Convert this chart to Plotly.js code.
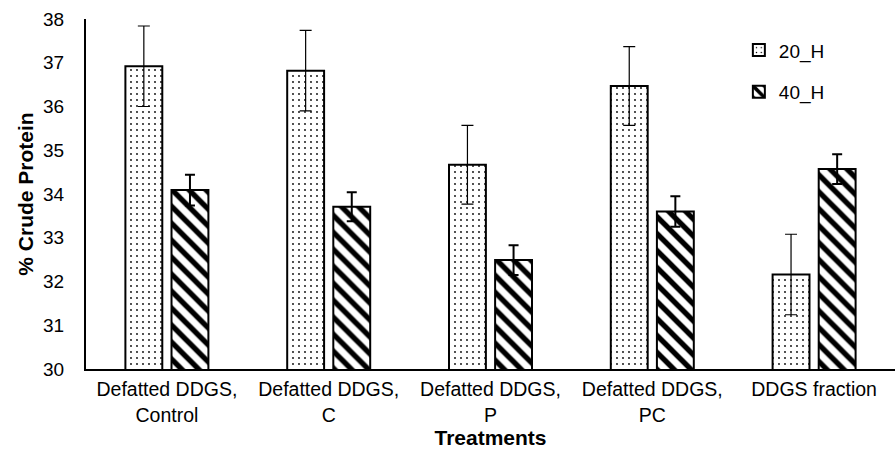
<!DOCTYPE html>
<html>
<head>
<meta charset="utf-8">
<script src="https://cdn.plot.ly/plotly-3.0.1.min.js"></script>
<style>html,body{margin:0;padding:0;background:#fff;}#chart{width:895px;height:454px;}</style>
</head>
<body>
<div id="chart"></div>
<script>
const categories = ["Defatted DDGS,<br>Control", "Defatted DDGS,<br>C", "Defatted DDGS,<br>P", "Defatted DDGS,<br>PC", "DDGS fraction"];
const h20 = [36.92, 36.82, 34.67, 36.47, 32.16];
const h20err = [0.92, 0.92, 0.9, 0.9, 0.92];
const h40 = [34.09, 33.71, 32.49, 33.6, 34.57];
const h40err = [0.35, 0.33, 0.34, 0.35, 0.34];
const seriesNames = ["20_H", "40_H"];
const yTicks = [30, 31, 32, 33, 34, 35, 36, 37, 38];

const font = "Liberation Sans, Arial, sans-serif";

const traces = [
  {
    type: "bar", name: seriesNames[0], x: categories, y: h20, legendgroup: "a",
    marker: {color: "#ffffff", line: {color: "#000", width: 2},
      pattern: {shape: ".", size: 6, solidity: 0.07, fgcolor: "#000", bgcolor: "#fff", fgopacity: 1, fillmode: "replace"}},
    error_y: {type: "data", array: h20err, visible: true, color: "#000", thickness: 1.2, width: 6}
  },
  {
    type: "bar", name: seriesNames[1], x: categories, y: h40, legendgroup: "b",
    marker: {color: "#ffffff", line: {color: "#000", width: 2},
      pattern: {shape: "\\", size: 12, solidity: 0.45, fgcolor: "#000", bgcolor: "#fff", fgopacity: 1, fillmode: "replace"}},
    error_y: {type: "data", array: h40err, visible: true, color: "#000", thickness: 2, width: 5}
  }
];

const layout = {
  width: 895, height: 454,
  margin: {l: 86, r: 0, t: 19, b: 85},
  paper_bgcolor: "#fff", plot_bgcolor: "#fff",
  font: {family: font, color: "#000", size: 18},
  barmode: "group", bargap: 0.43, bargroupgap: 0.2,
  showlegend: true,
  legend: {x: 0.807, y: 0.965, xanchor: "left", yanchor: "top", font: {size: 19, family: font},
    tracegroupgap: 14, traceorder: "grouped", bgcolor: "rgba(0,0,0,0)"},
  xaxis: {
    showline: true, linecolor: "#000", linewidth: 2, ticks: "", showgrid: false,
    tickfont: {size: 19.5, family: font}, ticklabelstandoff: 2,
    title: {text: "<b>Treatments</b>", font: {size: 21, family: font}, standoff: 6}
  },
  yaxis: {
    range: [30, 38], tickvals: yTicks, showline: true, linecolor: "#000", linewidth: 2,
    ticks: "", showgrid: false, zeroline: false, ticklabelstandoff: 16,
    tickfont: {size: 19, family: font},
    title: {text: "<b>% Crude Protein</b>", font: {size: 21, family: font}, standoff: 4}
  }
};

Plotly.newPlot("chart", traces, layout, {displayModeBar: false, staticPlot: true});
</script>
</body>
</html>
